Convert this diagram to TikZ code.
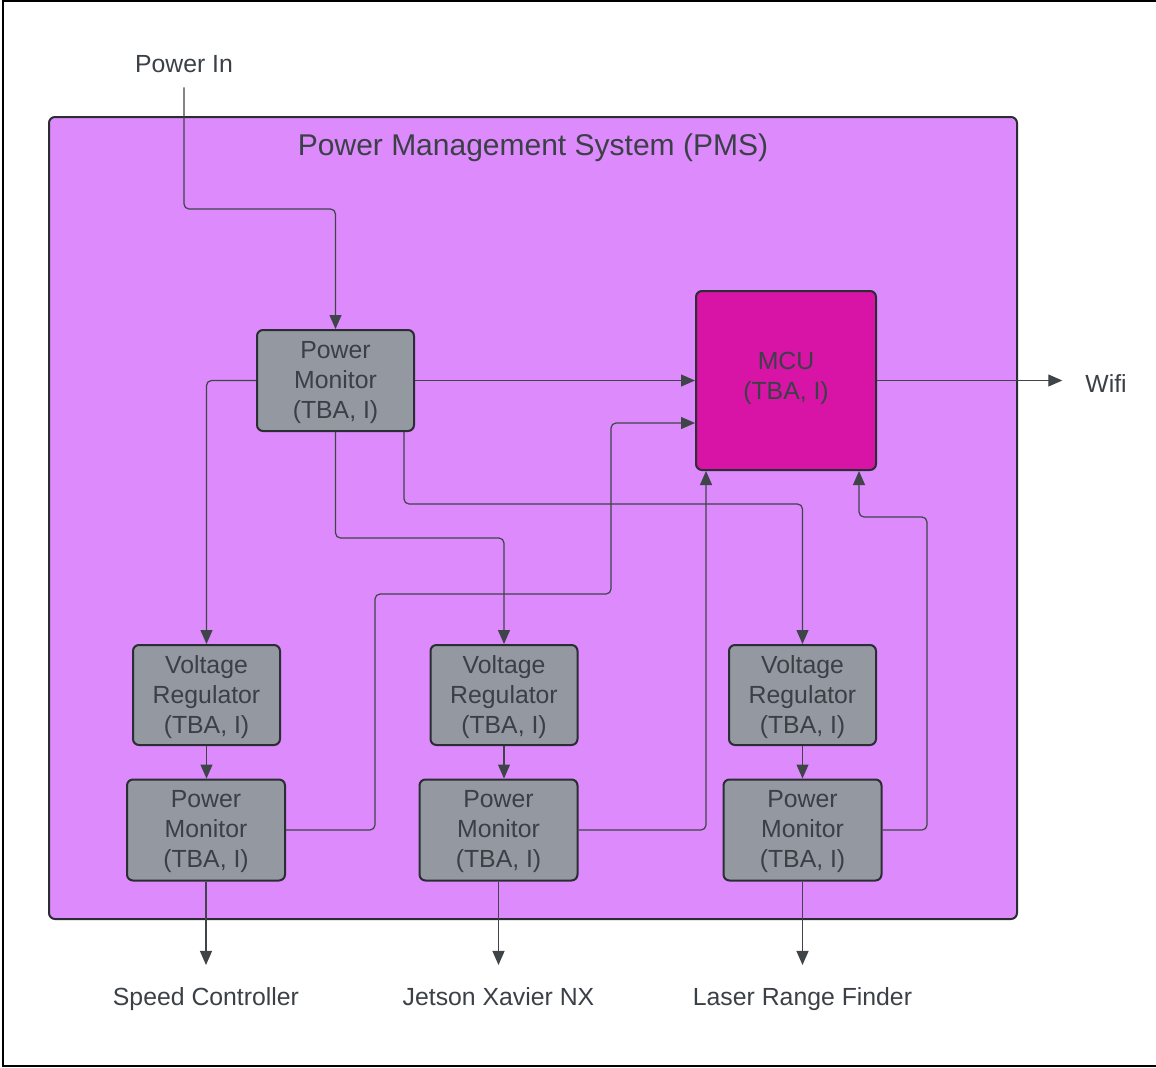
\documentclass[tikz,border=0pt]{standalone}
\usepackage{fontspec}
\setmainfont{Liberation Sans}
\usepackage{xcolor}
\usepackage{tikz}
\usetikzlibrary{arrows.meta}

\definecolor{pmsviolet}{HTML}{DC8AFC}
\definecolor{mcumagenta}{HTML}{D714A5}
\definecolor{boxgray}{HTML}{9398A1}
\definecolor{textdark}{HTML}{3B4047}
\definecolor{linedark}{HTML}{3F4448}
\definecolor{edgedark}{HTML}{2A2D31}

\begin{document}
\begin{tikzpicture}[x=0.5pt, y=-0.5pt,
    every node/.style={font=\fontsize{12.4}{15}\selectfont, text=textdark},
    block/.style={draw=edgedark, line width=1pt, rounded corners=3pt, fill=boxgray, align=center, inner sep=0pt},
    monitor/.style={block, minimum width=79pt, minimum height=50.5pt},
    regulator/.style={block, minimum width=73.5pt, minimum height=50pt},
    arr/.style={draw=linedark, line width=0.6pt, rounded corners=2.5pt, -{Triangle[length=7pt,width=6pt]}}]
    \useasboundingbox (0,0) rectangle (1156,1067);
    % Frame
    \draw[line width=1.25pt] (1156,1) -- (3,1) -- (3,1066) -- (1156,1066);
    % Power Management System
    \node[draw=edgedark, line width=1pt, rounded corners=3pt, fill=pmsviolet, minimum width=484pt, minimum height=401pt] (pms) at (533,518) {};
    \node[anchor=base, font=\fontsize{15}{18}\selectfont] (pmstitle) at (533,155) {Power Management System (PMS)};
    % Inputs and outputs
    \node[anchor=base] (pin) at (184,72) {Power In};
    \node[anchor=base] (wifi) at (1106,392) {Wifi};
    \node[anchor=base] (speed) at (206,1005) {Speed Controller};
    \node[anchor=base] (jetson) at (498.5,1005) {Jetson Xavier NX};
    \node[anchor=base] (laser) at (802.5,1005) {Laser Range Finder};
    % Main power monitor and MCU
    \node[monitor, minimum width=78.5pt] (pm0) at (335.5,380.5) {Power\\Monitor\\(TBA, I)\\[-14pt]};
    \node[block, fill=mcumagenta, minimum width=90pt, minimum height=89.5pt] (mcu) at (786,380.5) {MCU\\(TBA, I)\\[-10pt]};
    % Voltage regulators
    \node[regulator] (vr1) at (206.5,695) {Voltage\\Regulator\\(TBA, I)\\[-14pt]};
    \node[regulator] (vr2) at (504,695) {Voltage\\Regulator\\(TBA, I)\\[-14pt]};
    \node[regulator] (vr3) at (802.5,695) {Voltage\\Regulator\\(TBA, I)\\[-14pt]};
    % Branch power monitors
    \node[monitor] (pm1) at (206,830) {Power\\Monitor\\(TBA, I)\\[-14pt]};
    \node[monitor] (pm2) at (498.5,830) {Power\\Monitor\\(TBA, I)\\[-14pt]};
    \node[monitor] (pm3) at (802.5,830) {Power\\Monitor\\(TBA, I)\\[-14pt]};
    % Bend points
    \coordinate (bend1) at (250,209);
    \coordinate (bend2) at (420,538);
    \coordinate (bend3) at (600,504);
    % Power in
    \draw[arr] ([yshift=-4pt]pin.south) |- (bend1) -| (pm0.north);
    % Main monitor to MCU and regulators
    \draw[arr] (pm0.east) -- (mcu.west);
    \draw[arr] (pm0.west) -| (vr1.north);
    \draw[arr] (pm0.south) |- (bend2) -| (vr2.north);
    \draw[arr] ([xshift=-5.5pt]pm0.south east) |- (bend3) -| (vr3.north);
    % MCU to Wifi
    \draw[arr, shorten >=8pt] (mcu.east) -- (mcu.east -| wifi.west);
    % Regulators to monitors
    \draw[arr] (vr1.south) -- (vr1.south |- pm1.north);
    \draw[arr] (vr2.south) -- (vr2.south |- pm2.north);
    \draw[arr] (vr3.south) -- (vr3.south |- pm3.north);
    % Monitors to MCU
    \draw[arr] (pm1.east) -| (375,594) -| (611,423) -- ([yshift=-21.25pt]mcu.west);
    \draw[arr] (pm2.east) -| ([xshift=5.5pt]mcu.south west);
    \draw[arr] (pm3.east) -| (927,517) -| ([xshift=-9pt]mcu.south east);
    % Outputs
    \draw[arr, shorten >=7.5pt] (pm1.south) -- (speed.north);
    \draw[arr, shorten >=7.5pt] (pm2.south) -- (jetson.north);
    \draw[arr, shorten >=7.5pt] (pm3.south) -- (laser.north);
\end{tikzpicture}
\end{document}
